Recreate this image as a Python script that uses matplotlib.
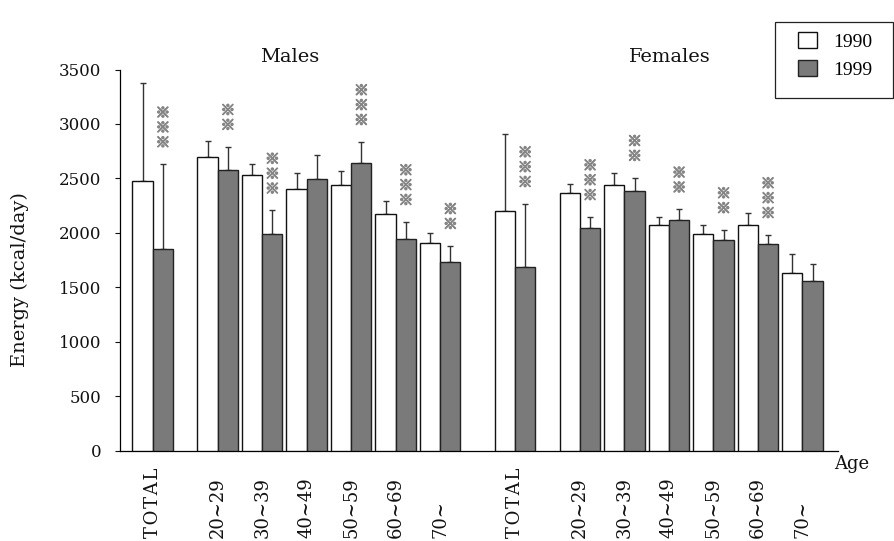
import matplotlib
matplotlib.use("Agg")
import matplotlib.pyplot as plt
import matplotlib.patheffects as pe
import numpy as np
from matplotlib.patches import Rectangle
from matplotlib.transforms import blended_transform_factory

# Mean energy intake (kcal/day) and upper SD by age group
age_groups = ["TOTAL", "20~29", "30~39", "40~49", "50~59", "60~69", "70~"]

male_1990 = [2480, 2700, 2530, 2400, 2440, 2170, 1910]
male_1990_sd = [900, 140, 100, 150, 125, 120, 85]
male_1999 = [1850, 2575, 1990, 2490, 2645, 1940, 1730]
male_1999_sd = [780, 215, 215, 220, 190, 160, 150]

female_1990 = [2200, 2365, 2440, 2075, 1985, 2070, 1635]
female_1990_sd = [710, 85, 105, 70, 90, 115, 170]
female_1999 = [1690, 2040, 2385, 2115, 1935, 1895, 1560]
female_1999_sd = [575, 105, 120, 100, 90, 85, 155]

# number of significance marks above each 1999 bar
male_sig = [3, 2, 3, 0, 3, 3, 2]
female_sig = [3, 3, 2, 2, 2, 3, 0]

years = ["1990", "1999"]

SERIF = "DejaVu Serif"
GREY = "#7a7a7a"
MARK_GREY = "#858585"
INK = "#111111"

fig = plt.figure(figsize=(8.94, 5.41), dpi=100)
ax = fig.add_axes([120 / 894, 1 - 450.5 / 541, 718 / 894, 381 / 541])

base = np.array([0, 1.46, 2.46, 3.46, 4.46, 5.46, 6.46])
male_x = base
female_x = base + 8.14
w = 0.456


def draw_sex(xc, m90, s90, m99, s99, sig):
    b1 = ax.bar(xc - w / 2, m90, width=w, color="white", edgecolor=INK,
                linewidth=1.0, zorder=3)
    b2 = ax.bar(xc + w / 2, m99, width=w, color=GREY, edgecolor="#222222",
                linewidth=1.0, zorder=3)
    ax.errorbar(xc - w / 2, m90, yerr=[np.zeros(len(m90)), s90], fmt="none",
                ecolor="#333333", elinewidth=1.0, capsize=2.5, capthick=1.0, zorder=2)
    ax.errorbar(xc + w / 2, m99, yerr=[np.zeros(len(m99)), s99], fmt="none",
                ecolor="#333333", elinewidth=1.0, capsize=2.5, capthick=1.0, zorder=2)
    for x, m, s, n in zip(xc + w / 2, m99, s99, sig):
        if n == 0:
            continue
        ax.annotate("\n".join(["\u203b"] * n), xy=(x, m + s), xytext=(0, 10),
                    textcoords="offset points", ha="center", va="bottom",
                    fontsize=10.5, color=MARK_GREY, linespacing=1.08,
                    family=["Noto Sans CJK JP", "DejaVu Sans"], zorder=4,
                    path_effects=[pe.withStroke(linewidth=0.9,
                                                foreground=MARK_GREY)])
    return b1, b2


h1, h2 = draw_sex(male_x, male_1990, male_1990_sd, male_1999, male_1999_sd, male_sig)
draw_sex(female_x, female_1990, female_1990_sd, female_1999, female_1999_sd, female_sig)

ax.set_xlim(-0.735, 15.4)
ax.set_ylim(0, 3500)
ax.set_yticks(np.arange(0, 3501, 500))
ax.set_xticks([])
ax.tick_params(axis="y", direction="out", length=3.6, width=0.8, pad=10,
               labelsize=12, colors=INK)
for lbl in ax.get_yticklabels():
    lbl.set_family(SERIF)
for side in ("top", "right"):
    ax.spines[side].set_visible(False)
ax.spines["left"].set_bounds(0, 3500)
ax.spines["left"].set_linewidth(0.9)
ax.spines["bottom"].set_linewidth(0.9)

# rotated age-group labels, aligned at their bottom end
trans = blended_transform_factory(ax.transData, fig.transFigure)
for xs in (male_x, female_x):
    for x, lab in zip(xs, age_groups):
        shown = "\u200a".join(lab) if lab == "TOTAL" else lab
        ax.text(x, 3 / 541, shown, transform=trans, rotation=90, ha="center",
                va="bottom", fontsize=13, family=SERIF, color=INK)

fig.text(20 / 894, 1 - 280 / 541, "Energy (kcal/day)", rotation=90,
         ha="center", va="center", fontsize=14, family=SERIF, color=INK)
fig.text(290 / 894, 1 - 57.5 / 541, "Males", ha="center", va="center",
         fontsize=14, family=SERIF, color=INK)
fig.text(670 / 894, 1 - 57.5 / 541, "Females", ha="center", va="center",
         fontsize=14, family=SERIF, color=INK)
fig.text(852 / 894, 1 - 464 / 541, "Age", ha="center", va="center",
         fontsize=13, family=SERIF, color=INK)

# legend entries inside a separately drawn box
leg = fig.legend([h1, h2], years, loc="upper left",
                 bbox_to_anchor=(798 / 894, 1 - 32 / 541), borderaxespad=0,
                 frameon=False, prop={"family": "Liberation Serif", "size": 14},
                 handlelength=0.98, handleheight=0.88, handletextpad=0.85,
                 borderpad=0, labelspacing=0.5)
fig.patches.append(Rectangle((775 / 894, 1 - 98 / 541), 118 / 894, 76 / 541,
                             transform=fig.transFigure, fill=False,
                             edgecolor="#222222", linewidth=0.9))

fig.savefig("out.png", dpi=100)
